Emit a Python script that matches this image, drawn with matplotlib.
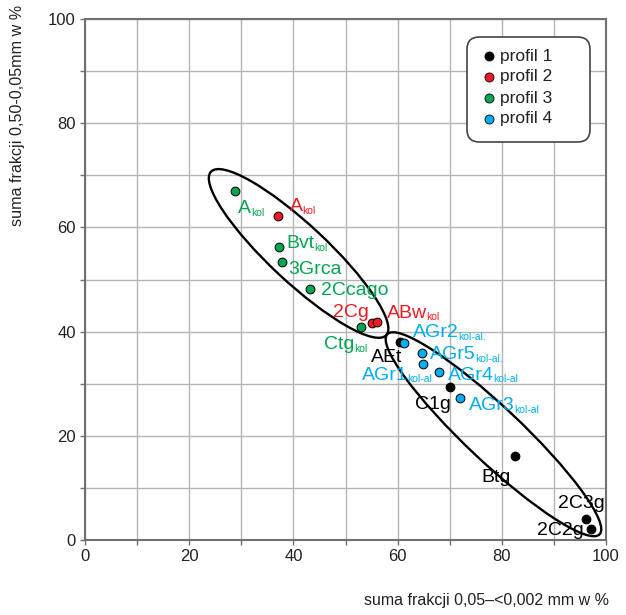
import matplotlib
matplotlib.use('Agg')
import matplotlib.pyplot as plt
from matplotlib.patches import Ellipse, FancyBboxPatch
import numpy as np

plt.rcParams['font.family'] = ['Liberation Sans', 'DejaVu Sans']

# profile data: x = suma frakcji 0,05-<0,002 mm, y = suma frakcji 0,50-0,05 mm
p1_x = [60.5, 70.1, 82.5, 96.1, 97.1]
p1_y = [38.0, 29.3, 16.1, 4.0, 2.2]
p1_lab = [('AEt', ''), ('C1g', ''), ('Btg', ''), ('2C3g', ''), ('2C2g', '')]

p2_x = [37.0, 55.1, 56.0]
p2_y = [62.1, 41.7, 41.8]
p2_lab = [('A', 'kol'), ('2Cg', ''), ('ABw', 'kol')]

p3_x = [28.7, 37.2, 37.8, 43.2, 53.0]
p3_y = [67.0, 56.2, 53.4, 48.2, 40.9]
p3_lab = [('A', 'kol'), ('Bvt', 'kol'), ('3Grca', ''), ('2Ccago', ''), ('Ctg', 'kol')]

p4_x = [61.2, 64.6, 64.8, 68.0, 72.0]
p4_y = [37.8, 35.8, 33.8, 32.2, 27.3]
p4_lab = [('AGr2', 'kol-al.'), ('AGr5', 'kol-al.'), ('AGr1', 'kol-al'),
          ('AGr4', 'kol-al'), ('AGr3', 'kol-al')]

# where each label sits (data coords, left/baseline unless noted)
p1_pos = [(54.8, 34.2), (63.3, 25.2), (76.0, 11.2), (90.8, 6.1), (86.7, 1.0)]
p2_pos = [(39.3, 63.2), (54.4, 42.8, 'right'), (57.9, 42.7)]
p3_pos = [(29.4, 62.8), (38.6, 56.1), (39.1, 51.1), (45.3, 47.1), (45.9, 36.7)]
p4_pos = [(62.9, 38.9), (66.2, 34.8), (53.1, 30.8), (69.7, 30.8), (73.7, 24.9)]

colors = ['#000000', '#ed1c24', '#00a651', '#00aeef']
names = ['profil 1', 'profil 2', 'profil 3', 'profil 4']

W, H = 626, 615
fig = plt.figure(figsize=(W / 100, H / 100), dpi=100)
ax = fig.add_axes([85 / W, 1 - 540 / H, 521 / W, 521 / H])

ax.set_xlim(0, 100)
ax.set_ylim(0, 100)
ax.set_xticks(np.arange(0, 101, 20))
ax.set_yticks(np.arange(0, 101, 20))
ax.set_xticks(np.arange(10, 100, 20), minor=True)
ax.set_yticks(np.arange(10, 100, 20), minor=True)
ax.grid(True, which='both', color='#b4b4b4', lw=1)
ax.set_axisbelow(True)
ax.tick_params(which='both', length=3.5, width=1, color='#707070',
               labelsize=12, labelcolor='#222222', pad=3)
for s in ax.spines.values():
    s.set_color('#707070')
    s.set_linewidth(1.5)

# groups
ax.add_patch(Ellipse((41.0, 55.0), 46, 11, angle=-43, fill=False,
                     ec='black', lw=1.7, zorder=2))
ax.add_patch(Ellipse((78.4, 20.3), 56, 10.5, angle=-43.3, fill=False,
                     ec='black', lw=1.7, zorder=2))

groups = [(p1_x, p1_y, p1_lab, p1_pos), (p2_x, p2_y, p2_lab, p2_pos),
          (p3_x, p3_y, p3_lab, p3_pos), (p4_x, p4_y, p4_lab, p4_pos)]

for (xs, ys, labs, pos), c in zip(groups, colors):
    ax.scatter(xs, ys, s=40, color=c, edgecolor='black', linewidth=0.7, zorder=3)
    for (main, sub), p in zip(labs, pos):
        ha = p[2] if len(p) > 2 else 'left'
        t = ax.text(p[0], p[1], main, color=c, fontsize=14, ha=ha,
                    va='baseline', zorder=4)
        if sub:
            ax.annotate(sub, xy=(1, 0), xycoords=t, xytext=(-0.3, 0.8),
                        textcoords='offset points', fontsize=7.5, color=c,
                        va='baseline', zorder=4)

# legend box drawn by hand (figure pixel coords)
px = lambda x, y: (x / W, 1 - y / H)
box = FancyBboxPatch(px(467, 142), 123 / W, 105 / H, transform=fig.transFigure,
                     boxstyle='round,pad=0,rounding_size=0.02',
                     fc='white', ec='#444444', lw=1.2, zorder=5)
fig.add_artist(box)
for i, (c, name) in enumerate(zip(colors, names)):
    yy = 56 + i * 21
    fig.add_artist(plt.Line2D([489 / W], [1 - yy / H], ls='none', marker='o',
                              ms=6.5, mfc=c, mec='black', mew=0.6,
                              transform=fig.transFigure, zorder=6))
    fig.text(*px(500, yy), name, fontsize=12.5, color='#222222',
             va='center', ha='left', zorder=6)

fig.text(18 / W, 1 - 5 / H, 'suma frakcji 0,50-0,05mm w %', rotation=90,
         ha='center', va='top', fontsize=11.6, color='#222222')
fig.text(609 / W, 1 - 605 / H, 'suma frakcji 0,05\u2013<0,002 mm w %',
         ha='right', va='baseline', fontsize=11.5, color='#222222')

fig.savefig('out.png', dpi=100)
